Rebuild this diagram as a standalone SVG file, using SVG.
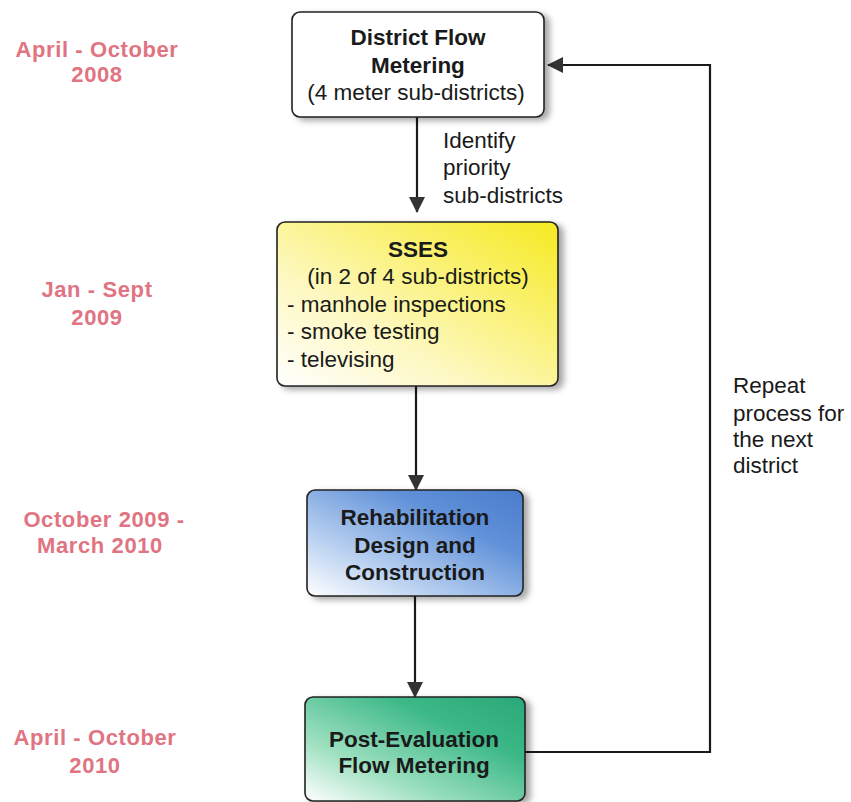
<svg xmlns="http://www.w3.org/2000/svg" width="851" height="802" viewBox="0 0 851 802">
<style>
  .box { stroke: #222; stroke-width: 1.6; }
  .date { font-family: "Liberation Sans", Arial, sans-serif; font-weight: bold; font-size: 22px; fill: #e07482; text-anchor: middle; letter-spacing: 0.6px; }
  .t { font-family: "Liberation Sans", Arial, sans-serif; font-size: 22.5px; fill: #1a1a1a; }
  .b { font-weight: bold; }
  .c { text-anchor: middle; }
  .line { stroke: #1a1a1a; stroke-width: 2.2; fill: none; }
</style>
<defs>
  <filter id="sh" x="-10%" y="-10%" width="125%" height="130%">
    <feDropShadow dx="5" dy="3" stdDeviation="3" flood-color="#000" flood-opacity="0.35"/>
  </filter>
  <linearGradient id="gy" x1="0" y1="1" x2="1" y2="0">
    <stop offset="0" stop-color="#ffffff"/>
    <stop offset="0.35" stop-color="#fdf8c0"/>
    <stop offset="1" stop-color="#f6ea20"/>
  </linearGradient>
  <linearGradient id="gb" x1="0" y1="1" x2="1" y2="0">
    <stop offset="0" stop-color="#ffffff"/>
    <stop offset="0.3" stop-color="#b8d0f0"/>
    <stop offset="0.7" stop-color="#5f90d8"/>
    <stop offset="1" stop-color="#4a7ccc"/>
  </linearGradient>
  <linearGradient id="gg" x1="0" y1="1" x2="1" y2="0">
    <stop offset="0" stop-color="#ffffff"/>
    <stop offset="0.3" stop-color="#9ee0c0"/>
    <stop offset="0.7" stop-color="#3cb888"/>
    <stop offset="1" stop-color="#2aa878"/>
  </linearGradient>
  <marker id="ah" viewBox="0 0 16 16" refX="15" refY="8" markerWidth="16" markerHeight="16" markerUnits="userSpaceOnUse" orient="auto">
    <path d="M0,0 L16,8 L0,16 Z" fill="#333"/>
  </marker>
</defs>

<g id="dates">
  <text class="date" x="97" y="57">April - October</text>
  <text class="date" x="97" y="82">2008</text>
  <text class="date" x="97" y="297">Jan - Sept</text>
  <text class="date" x="97" y="325">2009</text>
  <text class="date" x="104" y="527">October 2009 -</text>
  <text class="date" x="100" y="553">March 2010</text>
  <text class="date" x="95" y="745">April - October</text>
  <text class="date" x="95" y="773">2010</text>
</g>

<g id="connectors">
  <line class="line" x1="417" y1="117" x2="417" y2="212" marker-end="url(#ah)"/>
  <line class="line" x1="416" y1="386" x2="416" y2="490" marker-end="url(#ah)"/>
  <line class="line" x1="415" y1="596" x2="415" y2="697" marker-end="url(#ah)"/>
  <polyline class="line" points="525,752 710,752 710,65 548,65" marker-end="url(#ah)"/>
  <g class="t">
    <text x="443" y="148">Identify</text>
    <text x="443" y="175">priority</text>
    <text x="443" y="203">sub-districts</text>
    <text x="733" y="393">Repeat</text>
    <text x="733" y="421">process for</text>
    <text x="733" y="447">the next</text>
    <text x="733" y="473">district</text>
  </g>
</g>

<g id="node-metering">
  <rect class="box" x="292" y="12" width="252" height="105" rx="8" fill="#ffffff" filter="url(#sh)"/>
  <text class="t b c" x="418" y="45">District Flow</text>
  <text class="t b c" x="418" y="73">Metering</text>
  <text class="t c" x="416" y="100">(4 meter sub-districts)</text>
</g>

<g id="node-sses">
  <rect class="box" x="277" y="222" width="281" height="164" rx="8" fill="url(#gy)" filter="url(#sh)"/>
  <text class="t b c" x="418" y="257" fill="#4a4818">SSES</text>
  <text class="t c" x="418" y="284">(in 2 of 4 sub-districts)</text>
  <text class="t" x="287" y="312">- manhole inspections</text>
  <text class="t" x="287" y="339">- smoke testing</text>
  <text class="t" x="287" y="367">- televising</text>
</g>

<g id="node-rehab">
  <rect class="box" x="307" y="490" width="216" height="106" rx="8" fill="url(#gb)" filter="url(#sh)"/>
  <text class="t b c" x="415" y="525" fill="#1c2a4a">Rehabilitation</text>
  <text class="t b c" x="415" y="553" fill="#1c2a4a">Design and</text>
  <text class="t b c" x="415" y="580" fill="#1c2a4a">Construction</text>
</g>

<g id="node-post">
  <rect class="box" x="305" y="697" width="220" height="104" rx="8" fill="url(#gg)" filter="url(#sh)"/>
  <text class="t b c" x="414" y="747" fill="#1a4a3a">Post-Evaluation</text>
  <text class="t b c" x="414" y="773" fill="#1a4a3a">Flow Metering</text>
</g>
</svg>
